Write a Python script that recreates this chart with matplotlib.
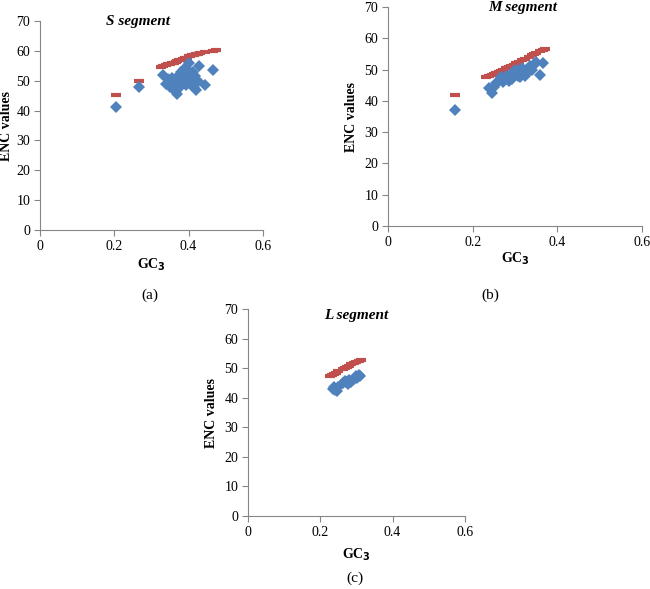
import matplotlib.pyplot as plt

plt.rcParams['font.family'] = ['Liberation Serif', 'DejaVu Serif']

# S segment
s_gc3 = [0.205, 0.267, 0.332, 0.340, 0.345, 0.350, 0.355, 0.360, 0.362, 0.365, 0.368, 0.370,
         0.372, 0.375, 0.378, 0.380, 0.382, 0.385, 0.388, 0.390, 0.392, 0.395, 0.398, 0.400,
         0.403, 0.405, 0.410, 0.412, 0.415, 0.418, 0.421, 0.425, 0.429, 0.443, 0.465]
s_enc = [41.2, 47.8, 51.9, 49.0, 50.5, 48.0, 51.0, 47.0, 49.5, 46.5, 45.5, 48.5,
         51.5, 47.5, 50.0, 53.0, 49.0, 51.5, 54.0, 52.0, 48.5, 50.5, 53.5, 55.8,
         51.0, 49.0, 50.5, 53.0, 48.0, 51.5, 46.9, 50.0, 55.0, 48.6, 53.6]
s_exp_gc3 = [0.205, 0.267, 0.325, 0.332, 0.340, 0.345, 0.350, 0.355, 0.360, 0.365, 0.370, 0.375,
             0.380, 0.385, 0.390, 0.395, 0.400, 0.405, 0.410, 0.415, 0.420, 0.425, 0.430, 0.443,
             0.465, 0.475]
s_exp_enc = [45.2, 49.9, 54.7, 55.0, 55.3, 55.5, 55.6, 55.9, 56.1, 56.4, 56.6, 56.8,
             57.0, 57.3, 57.5, 57.7, 58.2, 58.3, 58.5, 58.7, 58.9, 59.1, 59.3, 59.6,
             60.1, 60.3]

# M segment
m_gc3 = [0.158, 0.238, 0.245, 0.250, 0.255, 0.262, 0.268, 0.272, 0.278, 0.282, 0.286, 0.290,
         0.293, 0.297, 0.300, 0.303, 0.307, 0.310, 0.313, 0.317, 0.320, 0.324, 0.328, 0.332,
         0.336, 0.340, 0.345, 0.350, 0.359, 0.366]
m_enc = [37.1, 44.0, 42.6, 44.5, 45.8, 46.5, 47.5, 46.0, 48.0, 47.0, 46.5, 48.5,
         47.0, 49.5, 48.5, 50.0, 48.0, 49.5, 47.5, 50.5, 49.0, 48.0, 50.0, 49.5,
         51.0, 50.0, 51.5, 52.5, 48.3, 52.0]
m_exp_gc3 = [0.158, 0.232, 0.238, 0.245, 0.250, 0.255, 0.262, 0.268, 0.272, 0.278, 0.282, 0.286,
             0.290, 0.297, 0.303, 0.310, 0.317, 0.324, 0.332, 0.340, 0.345, 0.350, 0.359, 0.366,
             0.372]
m_exp_enc = [41.9, 47.6, 47.9, 48.3, 48.6, 48.9, 49.3, 49.7, 50.0, 50.4, 50.6, 50.9,
             51.2, 51.6, 52.0, 52.5, 53.0, 53.4, 54.0, 54.5, 54.9, 55.2, 55.8, 56.2,
             56.6]

# L segment
l_gc3 = [0.234, 0.238, 0.242, 0.246, 0.250, 0.264, 0.268, 0.272, 0.276, 0.280, 0.284, 0.294,
         0.298, 0.302, 0.306, 0.309]
l_enc = [43.0, 43.8, 42.6, 42.2, 43.5, 45.0, 45.8, 45.2, 44.6, 46.0, 45.3, 46.5,
         47.3, 46.8, 47.8, 47.4]
l_exp_gc3 = [0.226, 0.232, 0.238, 0.244, 0.250, 0.262, 0.268, 0.274, 0.280, 0.286, 0.294, 0.300,
             0.306, 0.312]
l_exp_enc = [47.5, 47.8, 48.1, 48.5, 48.9, 49.7, 50.1, 50.5, 50.9, 51.3, 51.8, 52.2,
             52.5, 52.8]

titles = ['S segment', 'M segment', 'L segment']
tags = ['(a)', '(b)', '(c)']
xticks = [0, 0.2, 0.4, 0.6]
xticklabels = ['0', '0.2', '0.4', '0.6']
yticks = [0, 10, 20, 30, 40, 50, 60, 70]

fig = plt.figure(figsize=(6.5, 5.89), dpi=100)
# left, bottom, width, height
boxes = [[0.0615, 0.6095, 0.343, 0.3548],
         [0.5969, 0.6163, 0.3908, 0.3718],
         [0.3815, 0.1239, 0.3338, 0.3514]]
data = [(s_gc3, s_enc, s_exp_gc3, s_exp_enc),
        (m_gc3, m_enc, m_exp_gc3, m_exp_enc),
        (l_gc3, l_enc, l_exp_gc3, l_exp_enc)]
# where the labels sit, in axes fractions
ylab_x = [-0.121, -0.118, -0.138]
xlab_y = [-0.129, -0.114, -0.15]
title_pos = [(0.44, 1.0), (0.53, 1.0), (0.50, 0.97)]
tag_pos = [(0.2308, 0.4992), (0.7538, 0.4992), (0.546, 0.0187)]

grey = '#868686'
for i, box in enumerate(boxes):
    gx, ge, ex, ee = data[i]
    ax = fig.add_axes(box)
    ax.plot(ex, ee, linestyle='none', marker='_', markersize=7, markeredgewidth=3,
            color='#C0504D')
    ax.plot(gx, ge, linestyle='none', marker='D', markersize=6.5, color='#4F81BD',
            markeredgewidth=0)
    ax.set_xlim(0, 0.6)
    ax.set_ylim(0, 70)
    ax.set_xticks(xticks)
    ax.set_xticklabels(xticklabels)
    ax.set_yticks(yticks)
    for side in ['top', 'right']:
        ax.spines[side].set_visible(False)
    for side in ['left', 'bottom']:
        ax.spines[side].set_color(grey)
    ax.tick_params(length=4, color=grey, labelsize=10, pad=3)
    ax.set_xlabel('GC$_\\mathbf{3}$', fontsize=10, fontweight='bold')
    ax.set_ylabel('ENC values', fontsize=10, fontweight='bold')
    ax.xaxis.set_label_coords(0.5, xlab_y[i])
    ax.yaxis.set_label_coords(ylab_x[i], 0.5)
    ax.text(title_pos[i][0], title_pos[i][1], titles[i], transform=ax.transAxes,
            ha='center', va='center', fontsize=11, fontweight='bold', style='italic')
    fig.text(tag_pos[i][0], tag_pos[i][1], tags[i], ha='center', va='center', fontsize=11)

fig.savefig('out.png', dpi=100)
